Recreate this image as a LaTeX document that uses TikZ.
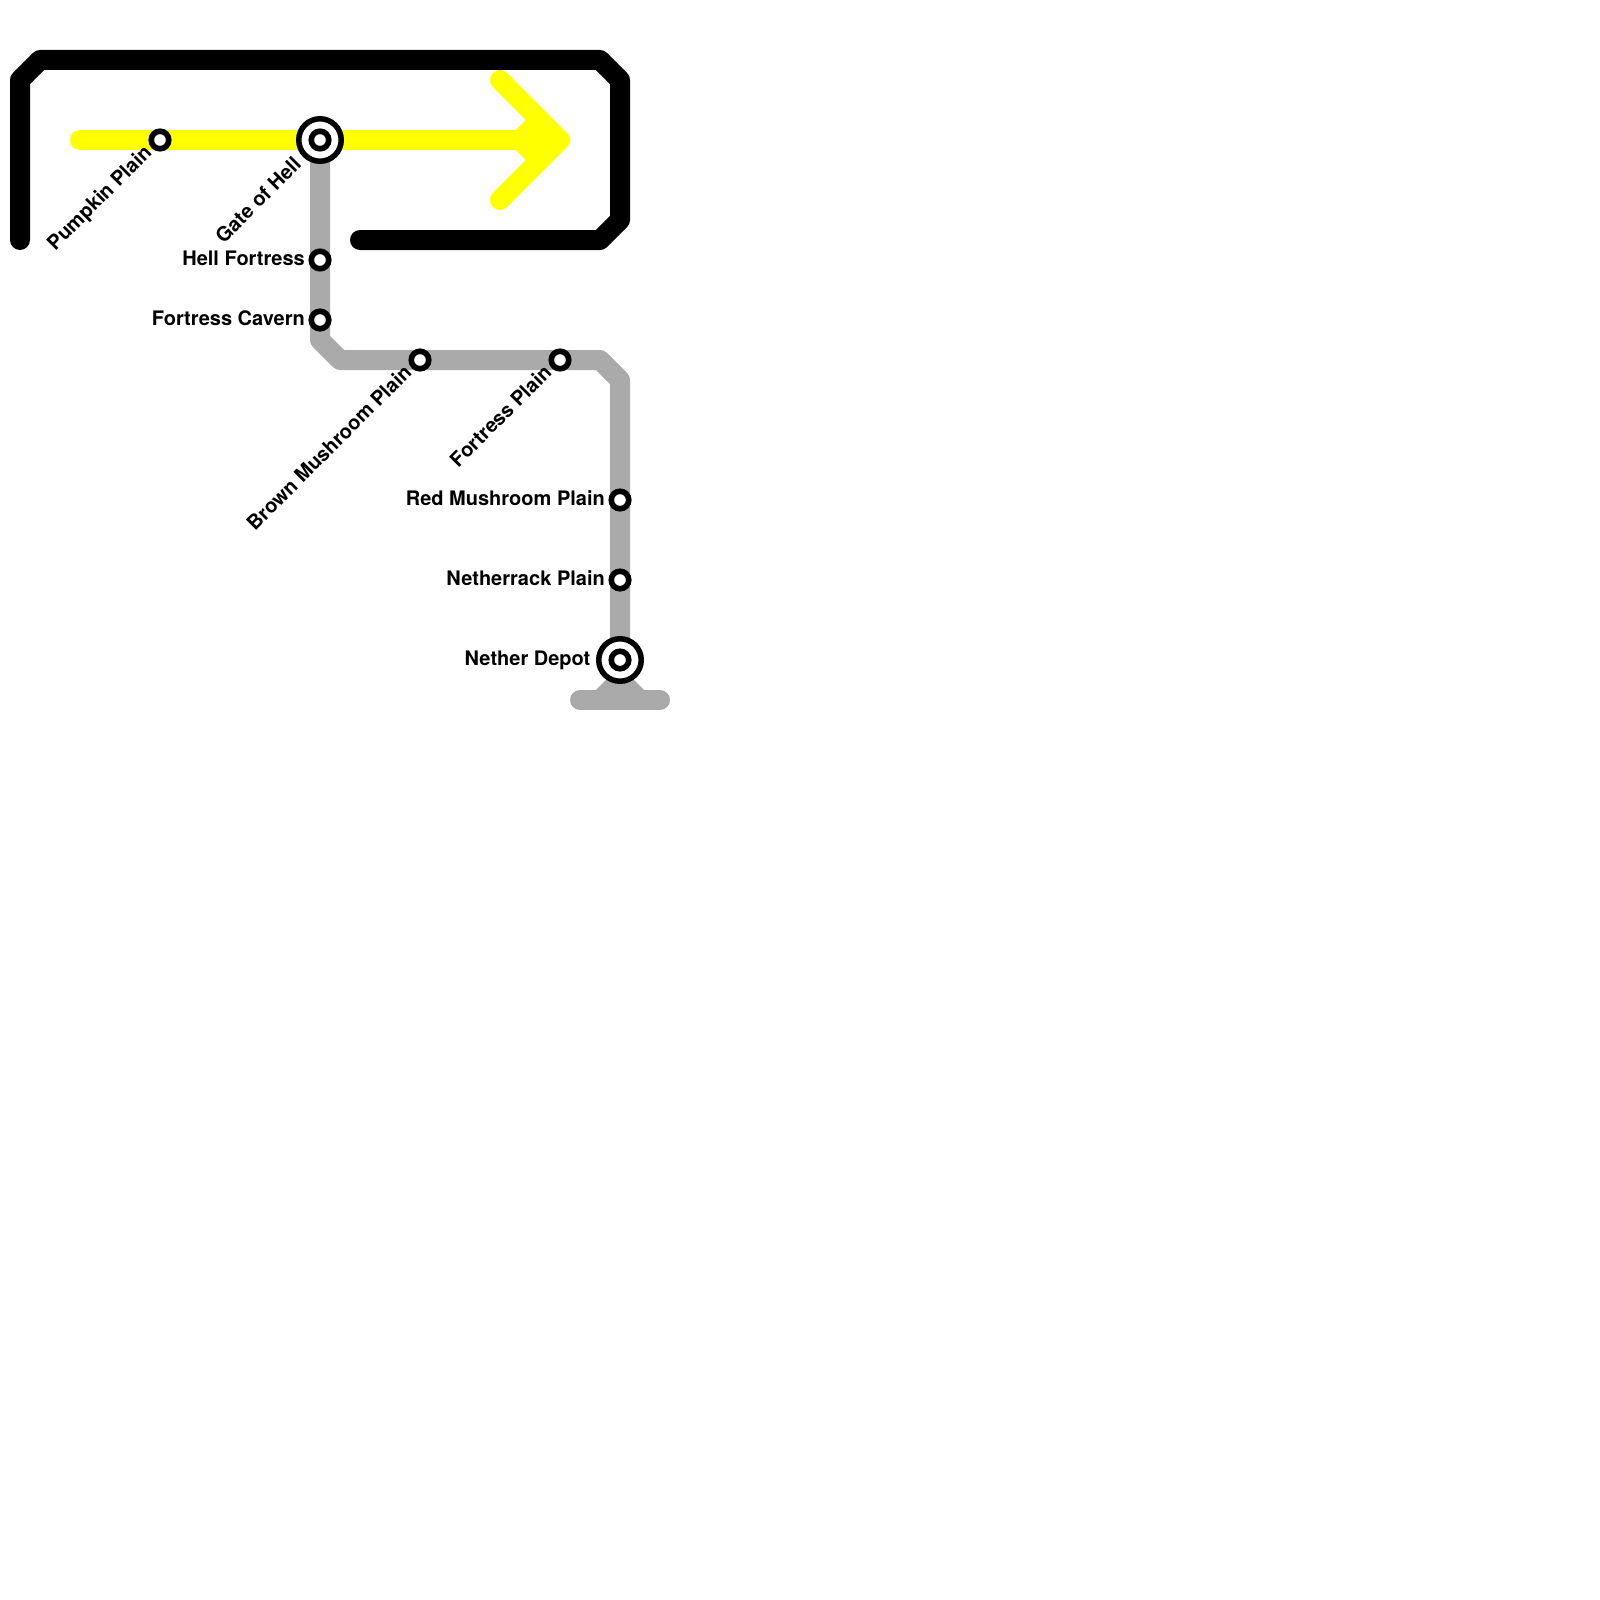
\documentclass[tikz,border=0pt]{standalone}
\usepackage{fontspec}
\setmainfont{TeX Gyre Heros}
\usetikzlibrary{calc}
\tikzset{
	LINE/.style={line width=20pt,line cap=round,line join=round,draw=#1}
}
\tikzset{
	STN/.style={circle,draw=black,fill=white,line width=5.6pt,inner sep=0pt,outer sep=0pt,minimum size=17.5pt},
	HUB/.style={circle,draw=black,fill=white,line width=5.5pt,inner sep=0pt,outer sep=0pt,minimum size=42.5pt},
	LBL/.style={font=\fontsize{20}{24}\selectfont\bfseries,inner sep=0pt,anchor=base east},
	DIAG/.style={LBL,rotate=45}
}
\definecolor{netherGrey}{HTML}{AAAAAA}
\definecolor{pumpkinYellow}{HTML}{FFFF00}
\begin{document}
\begin{tikzpicture}[x=1pt,y=-1pt]
		\useasboundingbox (0,0) rectangle (1600,1600);
		%coordinates of the lines
		\coordinate (A0) at (20,240);
		\coordinate (A1) at (20,80);
		\coordinate (A2) at (40,60);
		\coordinate (A3) at (600,60);
		\coordinate (A4) at (620,80);
		\coordinate (A5) at (620,220);
		\coordinate (A6) at (600,240);
		\coordinate (A7) at (360,240);
		\coordinate (Y0) at (80,140);
		\coordinate (Y1) at (560,140);
		\coordinate (Y2) at (500,80);
		\coordinate (Y3) at (500,200);
		\coordinate (Y4) at (520,140);
		\coordinate (Y5) at (540,120);
		\coordinate (Y6) at (540,160);
		\coordinate (G1) at (320,340);
		\coordinate (G2) at (340,360);
		\coordinate (G3) at (600,360);
		\coordinate (G4) at (620,380);
		\coordinate (G5) at (620,680);
		\coordinate (G6) at (600,700);
		\coordinate (G7) at (640,700);
		\coordinate (G8) at (580,700);
		\coordinate (G9) at (660,700);
		\coordinate (G0) at (320,140);
		%lines
		\draw[LINE=black] (A0) -- (A1) -- (A2) -- (A3) -- (A4) -- (A5) -- (A6) -- (A7);
		\draw[LINE=netherGrey] (G0) -- (G1) -- (G2) -- (G3) -- (G4) -- (G5);
		\draw[LINE=netherGrey] (G8) -- (G9);
		\draw[LINE=netherGrey] (G6) -- (G5) -- (G7);
		\draw[LINE=pumpkinYellow] (Y0) -- (Y1);
		\draw[LINE=pumpkinYellow] (Y2) -- (Y1) -- (Y3);
		\draw[LINE=pumpkinYellow] (Y5) -- (Y4) -- (Y6);
		%stations
		\node[HUB] (gateR) at (320,140) {};
		\node[HUB] (depotR) at (620,660) {};
		\foreach \nm/\x/\y in {pumpkin/160/140,gate/320/140,hell/320/260,cavern/320/320,brown/420/360,fortress/560/360,red/620/500,netherrack/620/580,depot/620/660}{
			\node[STN] (\nm) at (\x,\y) {};
		}
		%labels
		\node[DIAG] (pumpkinL) at ($(pumpkin)+(-7,13.5)$) {Pumpkin Plain};
		\node[DIAG] (gateL) at ($(gate)+(-17.5,25.5)$) {Gate of Hell};
		\node[DIAG] (brownL) at ($(brown)+(-7,13.5)$) {Brown Mushroom Plain};
		\node[DIAG] (fortressL) at ($(fortress)+(-7,13.5)$) {Fortress Plain};
		\node[LBL] (hellL) at ($(hell)+(-15,5)$) {Hell Fortress};
		\node[LBL] (cavernL) at ($(cavern)+(-15,5)$) {Fortress Cavern};
		\node[LBL] (redL) at ($(red)+(-15,5)$) {Red Mushroom Plain};
		\node[LBL] (netherrackL) at ($(netherrack)+(-15,5)$) {Netherrack Plain};
		\node[LBL] (depotL) at ($(depot)+(-29.5,5)$) {Nether Depot};
	\end{tikzpicture}
\end{document}
